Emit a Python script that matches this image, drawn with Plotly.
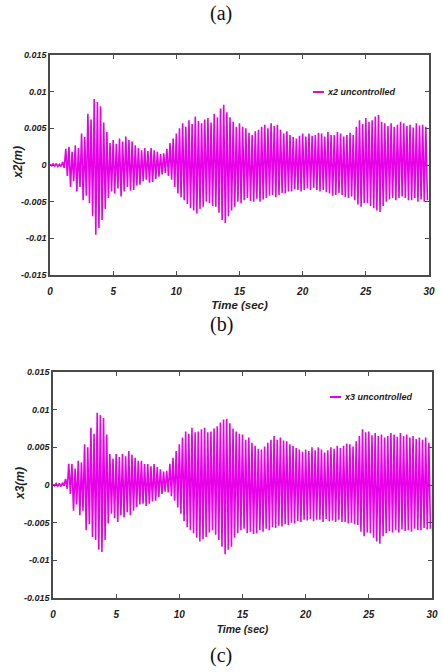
import plotly.graph_objects as go

# ---- data (mm), one value per oscillation peak, 4 peaks per second ----
PEAK_STEP = 0.25  # s between successive upper peaks

x2_upper_mm = [
    0.1, 0.15, 0.2, 0.1,  0.4, 2.2, 2.5, 1.8,  2.7, 2.3, 4.3, 3.8,
    7.0, 6.2, 9.0, 8.6,  8.0, 5.8, 4.5, 3.0,  3.4, 2.9, 3.6, 3.2,
    3.9, 3.4, 3.2, 2.7,  2.3, 2.0, 2.3, 1.9,  2.3, 2.0, 1.8, 1.5,
    1.6, 2.2, 3.0, 3.6,  4.3, 5.0, 5.7, 5.2,  6.1, 5.6, 6.6, 6.0,
    5.7, 6.2, 6.4, 5.8,  7.0, 6.5, 7.7, 8.2,  7.2, 6.5, 5.9, 5.2,
    5.7, 5.2, 5.0, 4.4,  4.1, 4.6, 4.8, 5.2,  5.5, 5.0, 5.7, 5.3,
    5.5, 4.8, 4.3, 4.6,  4.1, 3.8, 3.6, 4.0,  4.3, 3.9, 4.3, 4.0,
    4.1, 4.4, 4.3, 3.9,  4.5, 4.1, 4.1, 4.5,  4.3, 3.9, 4.1, 4.4,
    4.1, 5.2, 6.1, 5.6,  6.4, 5.9, 6.1, 6.6,  6.8, 5.9, 5.7, 5.3,
    5.7, 5.2, 5.5, 5.9,  5.7, 5.3, 5.5, 5.1,  5.7, 5.4, 5.5, 5.2,
]
x2_lower_mm = [
    -0.1, -0.15, -0.2, -0.2,  -0.4, -1.5, -3.0, -2.2,  -3.6, -3.0, -4.8, -4.2,
    -5.2, -7.0, -9.5, -8.6,  -7.5, -6.0, -4.5, -3.6,  -3.9, -3.2, -4.3, -3.6,
    -3.0, -3.5, -3.4, -2.8,  -2.7, -2.2, -2.0, -2.4,  -2.3, -1.9, -1.6, -1.3,
    -1.1, -1.5, -2.0, -3.0,  -3.9, -4.4, -4.8, -5.3,  -5.9, -6.2, -6.6, -6.0,
    -5.7, -5.0, -5.2, -5.6,  -5.7, -6.5, -7.5, -7.9,  -7.0, -6.2, -5.7, -5.0,
    -5.2, -4.8, -4.5, -4.9,  -5.0, -4.6, -5.0, -4.7,  -4.5, -4.2, -4.1, -4.4,
    -4.1, -3.8, -3.9, -3.6,  -3.6, -3.3, -3.4, -3.6,  -3.4, -3.2, -3.4, -3.1,
    -3.4, -3.6, -3.4, -3.7,  -3.9, -4.2, -4.1, -3.8,  -4.1, -4.4, -4.5, -4.3,
    -4.8, -5.4, -5.7, -5.2,  -5.2, -5.6, -5.9, -6.2,  -6.4, -5.6, -5.0, -4.7,
    -4.5, -4.8, -4.5, -4.3,  -4.5, -4.8, -4.8, -4.5,  -5.0, -4.7, -5.0, -4.8,
]
x3_upper_mm = [
    0.1, 0.2, 0.2, 0.3,  0.8, 2.8, 2.8, 2.2,  3.2, 3.0, 5.4, 5.0,
    7.6, 6.8, 9.6, 9.3,  8.9, 6.7, 4.1, 3.5,  4.1, 3.7, 4.1, 3.8,
    4.5, 4.0, 3.6, 3.2,  3.2, 2.8, 2.8, 2.5,  2.8, 2.4, 2.1, 1.8,
    1.9, 2.8, 3.6, 4.5,  5.4, 6.3, 7.1, 6.8,  7.6, 7.0, 7.1, 7.4,
    7.6, 7.0, 7.1, 7.5,  7.8, 8.3, 8.7, 8.8,  8.2, 7.5, 7.1, 6.8,
    6.7, 6.0, 6.3, 5.6,  5.2, 4.8, 4.7, 5.1,  5.6, 6.0, 6.5, 6.0,
    6.3, 5.9, 5.8, 5.4,  5.2, 4.9, 4.7, 4.4,  4.7, 4.5, 5.0, 4.6,
    5.0, 4.7, 4.3, 4.6,  5.0, 4.8, 5.2, 4.9,  5.2, 5.5, 5.4, 5.1,
    5.8, 6.5, 7.4, 7.0,  7.1, 6.6, 6.9, 6.5,  6.7, 6.3, 6.5, 6.9,
    6.7, 6.4, 6.9, 6.5,  6.7, 6.3, 6.5, 6.1,  6.3, 6.0, 6.3, 5.6,
]
x3_lower_mm = [
    -0.1, -0.15, -0.2, -0.1,  -0.5, -1.2, -3.4, -2.6,  -4.0, -3.4, -6.0, -5.2,
    -6.9, -7.3, -8.6, -8.9,  -7.3, -5.1, -3.8, -4.4,  -4.9, -4.0, -4.3, -3.6,
    -4.0, -3.4, -2.9, -2.6,  -2.5, -2.8, -2.5, -2.2,  -2.1, -1.6, -1.2, -0.9,
    -1.0, -1.5, -2.1, -3.0,  -3.8, -4.8, -5.6, -6.0,  -6.4, -7.0, -7.5, -7.2,
    -6.9, -6.3, -6.0, -6.6,  -7.3, -8.2, -9.2, -8.6,  -8.2, -7.0, -6.4, -6.0,
    -5.8, -6.4, -6.2, -6.5,  -6.4, -6.0, -6.2, -5.8,  -6.0, -5.6, -5.7, -5.4,
    -5.5, -5.2, -5.3, -5.0,  -5.1, -4.8, -4.9, -4.6,  -4.7, -4.5, -4.8, -4.6,
    -4.6, -4.9, -4.5, -4.8,  -4.7, -4.9, -4.6, -4.9,  -4.9, -5.1, -5.0, -5.2,
    -5.3, -6.2, -6.8, -6.3,  -6.4, -7.0, -7.5, -7.8,  -6.8, -6.4, -6.1, -6.3,
    -6.0, -6.3, -5.9, -6.1,  -6.0, -6.2, -5.8, -6.0,  -6.0, -5.7, -5.9, -5.8,
]

x_ticks = [0, 5, 10, 15, 20, 25, 30]
y_ticks = [-0.015, -0.01, -0.005, 0, 0.005, 0.01, 0.015]
y_tick_labels = ["-0.015", "-0.01", "-0.005", "0", "0.005", "0.01", "0.015"]


def zigzag(upper_mm, lower_mm):
    xs, ys = [], []
    for k, (u, l) in enumerate(zip(upper_mm, lower_mm)):
        xs += [k * PEAK_STEP, k * PEAK_STEP + PEAK_STEP / 2]
        ys += [u / 1000.0, l / 1000.0]
    return xs, ys


LINE_COLOR = "rgb(232,0,232)"
AXIS_COLOR = "#4a4a4a"
TEXT_COLOR = "#222"
FONT_FAMILY = "Liberation Sans, Arial, sans-serif"

fig = go.Figure()
xa, ya = zigzag(x2_upper_mm, x2_lower_mm)
fig.add_trace(go.Scatter(x=xa, y=ya, mode="lines", name="x2 uncontrolled",
                         line=dict(color=LINE_COLOR, width=1.6),
                         xaxis="x", yaxis="y", showlegend=False))
xb, yb = zigzag(x3_upper_mm, x3_lower_mm)
fig.add_trace(go.Scatter(x=xb, y=yb, mode="lines", name="x3 uncontrolled",
                         line=dict(color=LINE_COLOR, width=1.6),
                         xaxis="x2", yaxis="y2", showlegend=False))

W, H = 442, 672


def bi_font(size):
    return dict(family=FONT_FAMILY, size=size, color=TEXT_COLOR, weight="bold", style="italic")


def xaxis(domain, anchor, title_size, title_standoff):
    return dict(domain=domain, anchor=anchor, range=[0, 30], tickvals=x_ticks,
                ticks="inside", ticklen=4, tickcolor=AXIS_COLOR, showline=True,
                linecolor=AXIS_COLOR, linewidth=1.5, mirror="ticks", showgrid=False,
                zeroline=False, tickfont=bi_font(10), automargin=False,
                ticklabelstandoff=6,
                title=dict(text="Time (sec)", standoff=title_standoff,
                           font=bi_font(title_size)))


def yaxis(domain, anchor):
    return dict(domain=domain, anchor=anchor, range=[-0.015, 0.015], tickvals=y_ticks,
                ticktext=y_tick_labels, ticks="inside", ticklen=4, tickcolor=AXIS_COLOR,
                showline=True, linecolor=AXIS_COLOR, linewidth=1.5, mirror="ticks",
                showgrid=False, zeroline=False, tickfont=bi_font(9), automargin=False)


top_x = [50 / W, 429 / W]
top_y = [1 - 275 / H, 1 - 55 / H]
bot_x = [53 / W, 432 / W]
bot_y = [1 - 598 / H, 1 - 372 / H]

fig.update_layout(
    width=W, height=H, margin=dict(l=0, r=0, t=0, b=0, autoexpand=False),
    paper_bgcolor="white", plot_bgcolor="white", showlegend=False,
    xaxis=xaxis(top_x, "y", 11.5, 5), yaxis=yaxis(top_y, "x"),
    xaxis2=xaxis(bot_x, "y2", 10.5, 7), yaxis2=yaxis(bot_y, "x2"),
)

# y-axis titles (rotated)
for text, xpx, ypx in [("x2(m)", 18, 163), ("x3(m)", 20, 484)]:
    fig.add_annotation(text=text, x=xpx / W, y=1 - ypx / H, xref="paper", yref="paper",
                       showarrow=False, textangle=-90, font=bi_font(12),
                       xanchor="center", yanchor="middle")

serif = dict(family="Liberation Serif, Times New Roman, serif", size=20, color="#111")
for label, ypx in [("(a)", 13), ("(b)", 325), ("(c)", 655)]:
    fig.add_annotation(text=label, x=221 / W, y=1 - ypx / H, xref="paper", yref="paper",
                       showarrow=False, font=serif, xanchor="center", yanchor="middle")

# legends (line sample + label)
for name, x0, y0 in [("x2 uncontrolled", 313, 92), ("x3 uncontrolled", 330, 397)]:
    fig.add_shape(type="line", xref="paper", yref="paper",
                  x0=x0 / W, x1=(x0 + 11) / W, y0=1 - y0 / H, y1=1 - y0 / H,
                  line=dict(color=LINE_COLOR, width=2))
    fig.add_annotation(text=name, x=(x0 + 12) / W, y=1 - y0 / H, xref="paper",
                       yref="paper", showarrow=False, font=bi_font(9),
                       xanchor="left", yanchor="middle")

fig.write_html(
    "out.html",
    config={"displayModeBar": False},
    post_script="document.body.style.margin='0';document.body.style.overflow='hidden';",
)
